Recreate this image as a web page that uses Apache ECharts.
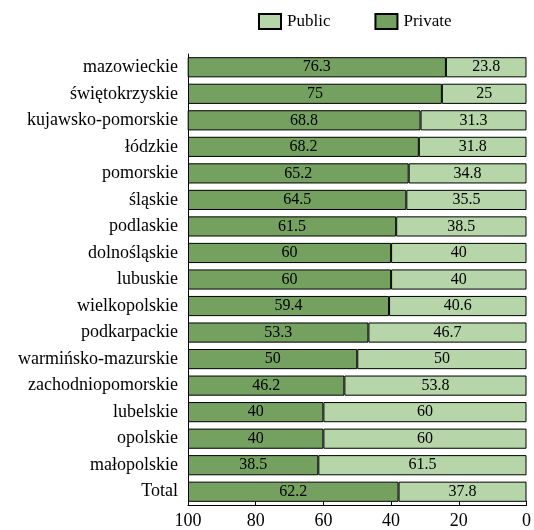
<!DOCTYPE html>
<html><head><meta charset="utf-8">
<script src="https://cdn.jsdelivr.net/npm/echarts@6/dist/echarts.min.js"></script>
<style>html,body{margin:0;padding:0;background:#fff}#c{width:534px;height:530px}</style>
</head><body><div id="c"></div>
<script>
const categories = ["mazowieckie","świętokrzyskie","kujawsko-pomorskie","łódzkie","pomorskie","śląskie","podlaskie","dolnośląskie","lubuskie","wielkopolskie","podkarpackie","warmińsko-mazurskie","zachodniopomorskie","lubelskie","opolskie","małopolskie","Total"];
const privateVals = [76.3,75,68.8,68.2,65.2,64.5,61.5,60,60,59.4,53.3,50,46.2,40,40,38.5,62.2];
const publicVals = [23.8,25,31.3,31.8,34.8,35.5,38.5,40,40,40.6,46.7,50,53.8,60,60,61.5,37.8];
const xTicks = [0,20,40,60,80,100];

const font = '"Liberation Serif","Times New Roman",serif';
const chart = echarts.init(document.getElementById('c'));
const lbl = {show:true, position:'inside', color:'#000', fontFamily:font, fontSize:16};
chart.setOption({
  animation:false,
  textStyle:{fontFamily:font},
  legend:{top:8, left:253, itemWidth:22, itemHeight:15, itemGap:44, icon:'rect',
    textStyle:{fontFamily:font, fontSize:17, color:'#000', padding:[0,0,0,1]},
    data:['Public','Private']},
  grid:{left:188, right:3, top:54, bottom:24, containLabel:false},
  xAxis:{type:'value', inverse:true, min:0, max:100, interval:20, position:'bottom',
    splitLine:{show:false},
    axisLine:{show:true, onZero:false, lineStyle:{color:'#000', width:1}},
    axisTick:{show:true, inside:true, length:4, lineStyle:{color:'#000'}},
    axisLabel:{color:'#000', fontFamily:font, fontSize:18, margin:7,
      formatter: v => xTicks.includes(v) ? String(v) : ''}},
  yAxis:{type:'category', inverse:true, data:categories, position:'left',
    axisLine:{show:true, onZero:false, lineStyle:{color:'#000', width:1}},
    axisTick:{show:false},
    axisLabel:{color:'#000', fontFamily:font, fontSize:18, margin:10}},
  series:[
    {name:'Public', type:'bar', stack:'s', data:publicVals, barCategoryGap:'24%',
      itemStyle:{color:'#b6d5a8', borderColor:'#000', borderWidth:1}, label:lbl},
    {name:'Private', type:'bar', stack:'s', data:privateVals, barCategoryGap:'24%',
      itemStyle:{color:'#74a060', borderColor:'#000', borderWidth:1}, label:lbl}
  ]
});
</script></body></html>
